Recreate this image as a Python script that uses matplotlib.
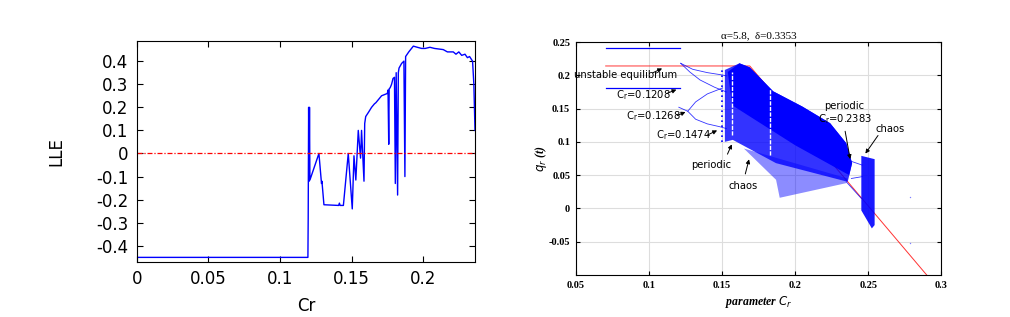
import matplotlib
matplotlib.use("Agg")
import matplotlib.pyplot as plt

# ---- left panel: largest Lyapunov exponent ----
cr_lle = [0, 0.1195, 0.1197, 0.1200, 0.1203, 0.1206, 0.1209, 0.1272, 0.1290, 0.1293,
          0.1307, 0.1410, 0.1415, 0.1420, 0.1443, 0.1477, 0.1505, 0.1517, 0.1530, 0.1547,
          0.1563, 0.1570, 0.1587, 0.1592, 0.1599, 0.162, 0.164, 0.166, 0.167, 0.169,
          0.171, 0.173, 0.175, 0.1755, 0.1760, 0.1763, 0.177, 0.178, 0.179, 0.1800,
          0.1806, 0.1812, 0.1822, 0.1827, 0.1832, 0.185, 0.1866, 0.1873, 0.1878, 0.190,
          0.1932, 0.196, 0.199, 0.2015, 0.2048, 0.208, 0.2141, 0.217, 0.2211, 0.223,
          0.225, 0.227, 0.2293, 0.231, 0.2325, 0.2346, 0.2355, 0.2363]
lle = [-0.45, -0.45, -0.28, 0.2, -0.12, 0.2, -0.115, 0.0, -0.13, -0.12,
       -0.222, -0.225, -0.215, -0.225, -0.225, 0.0, -0.24, -0.01, -0.115, 0.10,
       -0.02, 0.10, -0.12, 0.13, 0.16, 0.18, 0.2, 0.215, 0.22, 0.235,
       0.25, 0.255, 0.26, 0.275, 0.04, 0.28, 0.285, 0.30, 0.325, 0.33,
       -0.13, 0.35, -0.18, 0.35, 0.37, 0.39, 0.40, -0.10, 0.42, 0.44,
       0.465, 0.46, 0.455, 0.455, 0.46, 0.455, 0.45, 0.44, 0.44, 0.43,
       0.44, 0.425, 0.43, 0.415, 0.42, 0.40, 0.30, 0.10]
left_xticks = [0, 0.05, 0.1, 0.15, 0.2]
left_xlabels = ["0", "0.05", "0.1", "0.15", "0.2"]
left_yticks = [-0.4, -0.3, -0.2, -0.1, 0, 0.1, 0.2, 0.3, 0.4]
left_ylabels = ["-0.4", "-0.3", "-0.2", "-0.1", "0", "0.1", "0.2", "0.3", "0.4"]

# ---- right panel: bifurcation diagram ----
period_line_x = [0.0705, 0.121]
period_hi_y = 0.2405
period_lo_y = 0.1814
equil_x = [0.0705, 0.169, 0.290]
equil_y = [0.214, 0.214, -0.1]
branch_a = ([0.1218, 0.130, 0.140, 0.1505, 0.153], [0.218, 0.209, 0.204, 0.2004, 0.199])
branch_b = ([0.1218, 0.128, 0.135, 0.145, 0.153], [0.218, 0.205, 0.193, 0.182, 0.175])
branch_c = ([0.1205, 0.1266, 0.132, 0.140, 0.1505], [0.152, 0.146, 0.160, 0.172, 0.181])
branch_d = ([0.1266, 0.132, 0.140, 0.148, 0.153], [0.146, 0.134, 0.127, 0.123, 0.120])
# outlines of the chaotic bands (medium, sparse fan, dense core)
band_mid = ([0.152, 0.162, 0.169, 0.185, 0.205, 0.224, 0.235, 0.239, 0.236, 0.187, 0.1574, 0.152],
            [0.208, 0.218, 0.212, 0.176, 0.153, 0.128, 0.098, 0.068, 0.040, 0.068, 0.103, 0.100])
band_fan = ([0.165, 0.187, 0.1895, 0.235, 0.236], [0.090, 0.043, 0.016, 0.038, 0.045])
band_core = ([0.154, 0.162, 0.169, 0.185, 0.205, 0.224, 0.235, 0.239, 0.237, 0.200, 0.157],
             [0.205, 0.218, 0.212, 0.176, 0.153, 0.128, 0.098, 0.068, 0.050, 0.095, 0.155])
windows_x = [0.1567, 0.1826]
windows_y = [(0.11, 0.205), (0.08, 0.18)]
stripe_x = 0.1500
stripe_y = (0.10, 0.21)
orbit_up = ([0.2373, 0.246], [0.0716, 0.065])
orbit_dn = ([0.2385, 0.246], [0.045, 0.0478])
orbit_tail = ([0.235, 0.2453], [0.040, 0.015])
block = ([0.2453, 0.2544, 0.2544, 0.2525, 0.2453], [0.079, 0.074, -0.025, -0.030, -0.003])
stray_x = [0.2788, 0.2788]
stray_y = [0.0176, -0.052]
right_xticks = [0.05, 0.1, 0.15, 0.2, 0.25, 0.3]
right_xlabels = ["0.05", "0.1", "0.15", "0.2", "0.25", "0.3"]
right_yticks = [-0.05, 0, 0.05, 0.1, 0.15, 0.2, 0.25]
right_ylabels = ["-0.05", "0", "0.05", "0.1", "0.15", "0.2", "0.25"]

# (text, text xy, arrow tail, arrow head)
notes = [
    ("$\\mathregular{C_r}$=0.1208", (0.0965, 0.170), (0.1108, 0.1714), (0.1206, 0.180)),
    ("$\\mathregular{C_r}$=0.1268", (0.1033, 0.139), (0.1177, 0.138), (0.1268, 0.1464)),
    ("$\\mathregular{C_r}$=0.1474", (0.1238, 0.1103), (0.138, 0.108), (0.1484, 0.119)),
    ("periodic", (0.1428, 0.0652), (0.153, 0.0777), (0.1575, 0.100)),
    ("chaos", (0.1648, 0.0337), (0.1655, 0.0478), (0.169, 0.0778)),
    ("chaos", (0.2653, 0.120), (0.2578, 0.113), (0.247, 0.079)),
]

blue = "#0000ff"
serif = "Liberation Serif"
narrow = dict(family=["Liberation Sans Narrow", "DejaVu Sans"], stretch="condensed",
              fontsize=8)

fig = plt.figure(figsize=(10.1, 3.17), dpi=100)

ax1 = fig.add_axes([0.1356, 0.1735, 0.3347, 0.697])
ax1.plot(cr_lle, lle, color=blue, lw=1.0)
ax1.axhline(0, color="red", lw=0.9, ls=(0, (4, 1.5, 1, 1.5)))
ax1.set_xlim(0, 0.2363)
ax1.set_ylim(-0.47, 0.487)
ax1.set_xticks(left_xticks, left_xlabels)
ax1.set_yticks(left_yticks, left_ylabels)
ax1.tick_params(direction="in", top=True, right=True, labelsize=12, length=4, pad=6)
ax1.set_xlabel("Cr", fontsize=12, labelpad=6)
ax1.set_ylabel("LLE", fontsize=12, labelpad=22)

ax2 = fig.add_axes([0.570, 0.1325, 0.362, 0.735])
ax2.grid(True, color="#dddddd", lw=0.8)
ax2.set_axisbelow(True)
ax2.plot(equil_x, equil_y, color="red", lw=0.7, alpha=0.8, zorder=1.5)
ax2.fill(*band_fan, color=blue, alpha=0.45, lw=0, zorder=2)
ax2.fill(*band_mid, color=blue, alpha=0.8, lw=0, zorder=2)
ax2.fill(*band_core, color=blue, alpha=1.0, lw=0, zorder=2)
ax2.fill(*block, color=blue, alpha=0.9, lw=0, zorder=2)
for wx, (y0, y1) in zip(windows_x, windows_y):
    ax2.plot([wx, wx], [y0, y1], color="white", lw=1.0, ls=(0, (3, 1)))
ax2.plot([stripe_x, stripe_x], stripe_y, color=blue, lw=1.2, ls=(0, (1, 2)))
ax2.plot(period_line_x, [period_hi_y] * 2, color=blue, lw=0.9)
ax2.plot(period_line_x, [period_lo_y] * 2, color=blue, lw=0.9)
for br in (branch_a, branch_b, branch_c, branch_d, orbit_up, orbit_dn, orbit_tail):
    ax2.plot(*br, color=blue, lw=0.6, alpha=0.8)
ax2.scatter(stray_x, stray_y, s=1, color=blue, alpha=0.5, lw=0)
ax2.set_xlim(0.05, 0.3)
ax2.set_ylim(-0.1, 0.25)
ax2.set_xticks(right_xticks, right_xlabels)
ax2.set_yticks(right_yticks, right_ylabels)
ax2.tick_params(direction="in", top=True, right=True, length=3, pad=4)
for lab in ax2.get_xticklabels() + ax2.get_yticklabels():
    lab.set_fontfamily(serif)
    lab.set_fontweight("bold")
    lab.set_fontsize(7.5)
ax2.set_title("α=5.8,  δ=0.3353", fontsize=8, family=serif, pad=3)
ax2.set_xlabel("parameter $\\mathit{C_r}$", fontsize=8.5, family=serif, style="italic",
               weight="bold", labelpad=3)
ax2.set_ylabel("$\\mathit{q_r}$ (t)", fontsize=8.5, family=serif, style="italic",
               weight="bold", labelpad=0)

ax2.text(0.0485, 0.200, "unstable equilibrium", ha="left", va="center", clip_on=False, **narrow)
ax2.annotate("", xy=(0.1108, 0.212), xytext=(0.101, 0.202),
             arrowprops=dict(arrowstyle="-|>", color="black", lw=0.7, mutation_scale=6))
for txt, pos, tail, head in notes:
    ax2.text(pos[0], pos[1], txt, ha="center", va="center", **narrow)
    ax2.annotate("", xy=head, xytext=tail,
                 arrowprops=dict(arrowstyle="-|>", color="black", lw=0.7, mutation_scale=6))
ax2.text(0.2334, 0.1543, "periodic", ha="center", va="center", **narrow)
ax2.text(0.2339, 0.1343, "$\\mathregular{C_r}$=0.2383", ha="center", va="center", **narrow)
ax2.annotate("", xy=(0.238, 0.070), xytext=(0.2339, 0.120),
             arrowprops=dict(arrowstyle="-|>", color="black", lw=0.7, mutation_scale=6))

fig.savefig("out.png", dpi=100)
